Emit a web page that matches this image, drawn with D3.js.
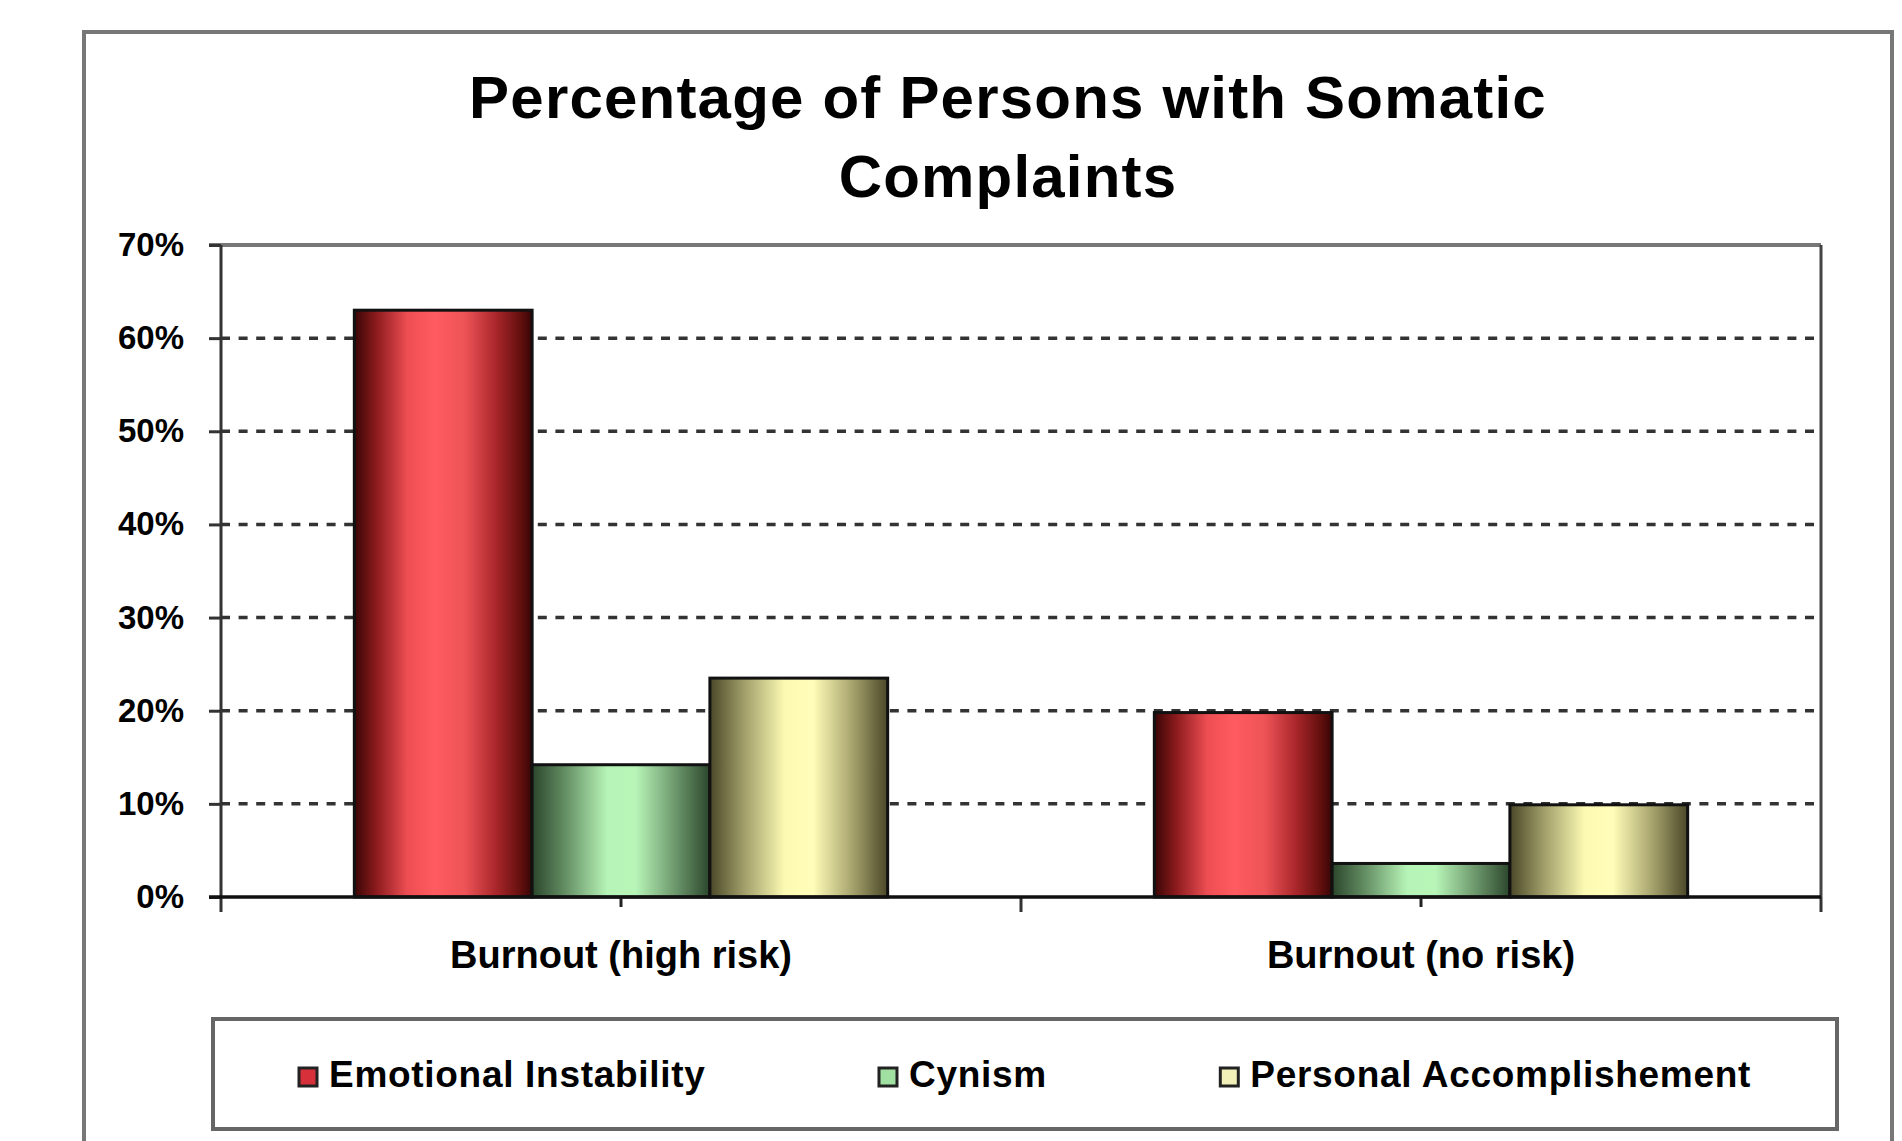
<!DOCTYPE html>
<html>
<head>
<meta charset="utf-8">
<script src="https://cdnjs.cloudflare.com/ajax/libs/d3/7.8.5/d3.min.js"></script>
<style>
  html, body { margin: 0; padding: 0; background: #fff; }
  svg text { font-family: Arial, "Liberation Sans", sans-serif; font-weight: bold; fill: #000; }
</style>
</head>
<body>
<div class="visualization"></div>
<script>
'use strict';

var titleLines       = ['Percentage of Persons with Somatic', 'Complaints'];
var categories       = ['Burnout (high risk)', 'Burnout (no risk)'];
var seriesNames      = ['Emotional Instability', 'Cynism', 'Personal Accomplishement'];
var emotionalValues  = [0.63, 0.198];
var cynismValues     = [0.142, 0.036];
var accomplishValues = [0.235, 0.099];
var yTicks           = [0, 0.1, 0.2, 0.3, 0.4, 0.5, 0.6, 0.7];

var seriesValues = [emotionalValues, cynismValues, accomplishValues];

// horizontal shading of each series, dark edges and a light middle
var gradientStops = [
  [[0, '#380505'], [0.12, '#8a1a1c'], [0.3, '#ee4e53'], [0.45, '#ff5b60'], [0.62, '#ee5457'], [0.8, '#a8262a'], [0.93, '#66100f'], [1, '#380505']],
  [[0, '#2c462c'], [0.18, '#628c62'], [0.42, '#b6f3b6'], [0.58, '#b8f6b8'], [0.8, '#6e9a6e'], [1, '#2c462c']],
  [[0, '#4a4828'], [0.18, '#9c9966'], [0.42, '#fcfab2'], [0.58, '#fffdb8'], [0.8, '#a8a46e'], [1, '#4a4828']]
];
var legendFills = ['#d8303a', '#a0e0a0', '#f0f0b8'];

var width  = 1902;
var height = 1141;
var plot   = {left: 221, right: 1821, top: 245, bottom: 897};

var svg = d3.select('.visualization')
  .append('svg')
  .attr('width', width)
  .attr('height', height);

var defs = svg.append('defs');
gradientStops.forEach(function(stops, i){
  var g = defs.append('linearGradient')
    .attr('id', 'grad' + i)
    .attr('x1', 0).attr('x2', 1).attr('y1', 0).attr('y2', 0);
  stops.forEach(function(s){
    g.append('stop').attr('offset', s[0]).attr('stop-color', s[1]);
  });
});

// outer chart frame
svg.append('rect')
  .attr('x', 84).attr('y', 32)
  .attr('width', 1808).attr('height', 1140)
  .attr('fill', 'none')
  .attr('stroke', '#777')
  .attr('stroke-width', 4);

// title
svg.append('text')
  .attr('text-anchor', 'middle')
  .attr('font-size', 60)
  .attr('letter-spacing', 1.2)
  .selectAll('tspan')
  .data(titleLines)
  .enter().append('tspan')
  .attr('x', 1008)
  .attr('y', function(d, i){ return 118 + i * 79; })
  .text(function(d){ return d; });

var y = d3.scaleLinear()
  .domain([0, 0.7])
  .range([plot.bottom, plot.top]);

var x0 = d3.scaleBand()
  .domain(categories)
  .range([plot.left, plot.right]);

// gap width of 150% between the groups
var barW = x0.bandwidth() / (seriesNames.length + 1.5);
var x1 = d3.scaleBand()
  .domain(d3.range(seriesNames.length))
  .range([0, barW * seriesNames.length]);
var groupOffset = (x0.bandwidth() - barW * seriesNames.length) / 2;

// dashed gridlines
svg.append('g')
  .selectAll('line')
  .data(yTicks.filter(function(d){ return d > 0 && d < 0.7; }))
  .enter().append('line')
  .attr('x1', plot.left).attr('x2', plot.right)
  .attr('y1', function(d){ return y(d); })
  .attr('y2', function(d){ return y(d); })
  .attr('stroke', '#333')
  .attr('stroke-width', 3.5)
  .attr('stroke-dasharray', '9,8.6');

// plot border, top and right
svg.append('line')
  .attr('x1', plot.left - 12).attr('x2', plot.right)
  .attr('y1', y(0.7)).attr('y2', y(0.7))
  .attr('stroke', '#777').attr('stroke-width', 4);
svg.append('line')
  .attr('x1', plot.right).attr('x2', plot.right)
  .attr('y1', plot.top).attr('y2', plot.bottom)
  .attr('stroke', '#444').attr('stroke-width', 3);

// bars
var rows = categories.map(function(c, i){
  return seriesNames.map(function(s, j){
    return {cat: c, series: j, value: seriesValues[j][i]};
  });
});

svg.append('g')
  .selectAll('g')
  .data(rows)
  .enter().append('g')
  .attr('transform', function(d){ return 'translate(' + (x0(d[0].cat) + groupOffset) + ',0)'; })
  .selectAll('rect')
  .data(function(d){ return d; })
  .enter().append('rect')
  .attr('x', function(d){ return x1(d.series); })
  .attr('width', x1.bandwidth())
  .attr('y', function(d){ return y(d.value); })
  .attr('height', function(d){ return y(0) - y(d.value); })
  .attr('fill', function(d){ return 'url(#grad' + d.series + ')'; })
  .attr('stroke', '#111')
  .attr('stroke-width', 3);

// y axis
var yAxis = svg.append('g')
  .attr('transform', 'translate(' + plot.left + ',0)')
  .call(d3.axisLeft(y)
    .tickValues(yTicks)
    .tickFormat(d3.format('.0%'))
    .tickSize(12)
    .tickSizeOuter(0)
    .tickPadding(25));
yAxis.select('.domain').remove();
yAxis.selectAll('.tick line')
  .attr('stroke', '#333')
  .attr('stroke-width', 3);
yAxis.selectAll('.tick text')
  .attr('font-size', 33)
  .attr('font-family', 'Arial, "Liberation Sans", sans-serif');

// x axis: short ticks at the group centres, category labels
var xAxis = svg.append('g')
  .attr('transform', 'translate(0,' + plot.bottom + ')')
  .call(d3.axisBottom(x0)
    .tickSize(10)
    .tickSizeOuter(0)
    .tickPadding(34));
xAxis.select('.domain').remove();
xAxis.selectAll('.tick line')
  .attr('stroke', '#222')
  .attr('stroke-width', 3);
xAxis.selectAll('.tick text')
  .attr('font-size', 38)
  .attr('font-family', 'Arial, "Liberation Sans", sans-serif');

// longer ticks on the category boundaries
var bounds = [plot.left].concat(categories.map(function(c){ return x0(c) + x0.bandwidth(); }));
svg.append('g')
  .selectAll('line')
  .data(bounds)
  .enter().append('line')
  .attr('x1', function(d){ return d; })
  .attr('x2', function(d){ return d; })
  .attr('y1', plot.bottom)
  .attr('y2', plot.bottom + 15)
  .attr('stroke', '#333')
  .attr('stroke-width', 3);

// axis lines
svg.append('line')
  .attr('x1', plot.left).attr('x2', plot.left)
  .attr('y1', plot.top).attr('y2', plot.bottom)
  .attr('stroke', '#333').attr('stroke-width', 3);
svg.append('line')
  .attr('x1', plot.left - 12).attr('x2', plot.right)
  .attr('y1', plot.bottom).attr('y2', plot.bottom)
  .attr('stroke', '#111').attr('stroke-width', 3.5);

// legend
var legendBox = {x: 213, y: 1019, w: 1624, h: 110};
svg.append('rect')
  .attr('x', legendBox.x).attr('y', legendBox.y)
  .attr('width', legendBox.w).attr('height', legendBox.h)
  .attr('fill', '#fff')
  .attr('stroke', '#666')
  .attr('stroke-width', 4);

var legendItems = svg.append('g')
  .selectAll('g')
  .data(seriesNames)
  .enter().append('g');

legendItems.append('rect')
  .attr('width', 18).attr('height', 18)
  .attr('y', 1068)
  .attr('fill', function(d, i){ return legendFills[i]; })
  .attr('stroke', '#222')
  .attr('stroke-width', 3);

legendItems.append('text')
  .attr('x', 30)
  .attr('y', 1087)
  .attr('font-size', 37)
  .attr('letter-spacing', 0.7)
  .text(function(d){ return d; });

// spread items across the box with equal gaps between them
var itemW = [];
legendItems.each(function(){ itemW.push(this.getBBox().width); });
var sidePad = 86;
var gap = (legendBox.w - 2 * sidePad - d3.sum(itemW)) / (itemW.length - 1);
var cursor = legendBox.x + sidePad;
legendItems.attr('transform', function(d, i){
  var tx = cursor;
  cursor += itemW[i] + gap;
  return 'translate(' + tx + ',0)';
});
</script>
</body>
</html>
